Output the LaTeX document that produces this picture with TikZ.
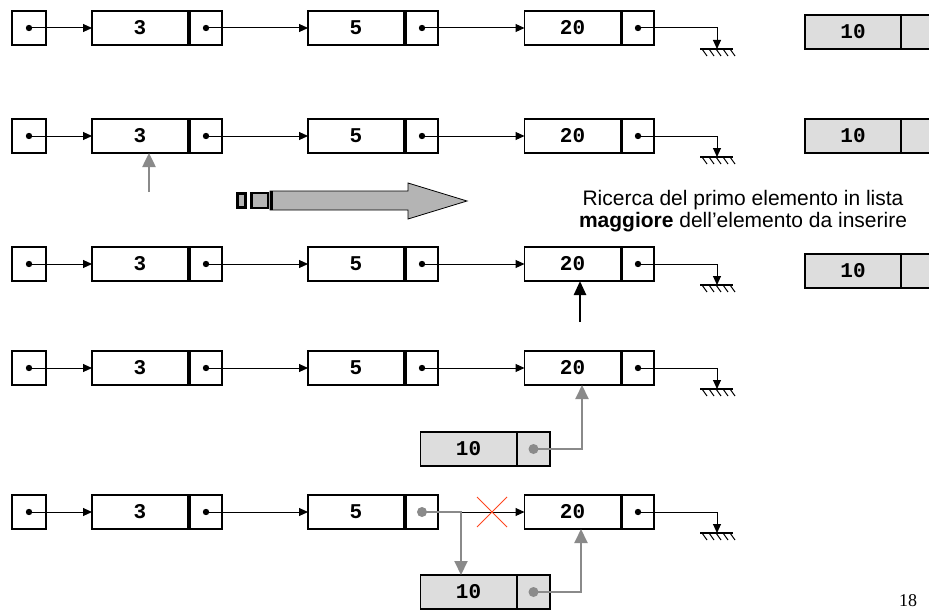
\documentclass[tikz,border=0pt]{standalone}
\usepackage{fontspec}
\usepackage{tikz}
\usetikzlibrary{arrows.meta}

\newfontfamily\labelfont{Liberation Sans}
\newfontfamily\cellfont{Liberation Mono}
\newfontfamily\pagenumfont{Liberation Serif}

\definecolor{cellgray}{RGB}{221,221,221}
\definecolor{ptrgray}{RGB}{138,138,138}
\definecolor{arrowfill}{RGB}{180,180,180}
\definecolor{crossred}{RGB}{255,69,30}

\tikzset{
    cell/.style={draw, rectangle, line width=1.1pt, inner sep=0pt, outer sep=0pt,
        minimum height=34pt, font=\cellfont\bfseries\fontsize{21}{21}\selectfont},
    headcell/.style={cell, minimum width=34pt},
    datacell/.style={cell, minimum width=96pt},
    ptrcell/.style={cell, minimum width=32pt},
    newcell/.style={fill=cellgray},
    link/.style={line width=1pt, -{Triangle[length=9pt,width=8pt]}},
    graylink/.style={draw=ptrgray, line width=2pt, -{Triangle[length=14pt,width=13pt]}},
    bigup/.style={line width=2.5pt, -{Triangle[length=14pt,width=12pt]}},
}

\begin{document}
\begin{tikzpicture}[x=1pt,y=-1pt]
    \useasboundingbox (0,0) rectangle (929,610);

    % the same list 3 -> 5 -> 20 on every row
    \foreach \r/\y in {a/28,b/136,c/264,d/368,e/512}{
        \node[headcell] (h\r) at (29,\y) {};
        \node[datacell] (n3\r) at (140,\y) {3};
        \node[ptrcell] (p3\r) at (206,\y) {};
        \node[datacell] (n5\r) at (356,\y) {5};
        \node[ptrcell] (p5\r) at (422,\y) {};
        \node[datacell] (n20\r) at (572.5,\y) {20};
        \node[ptrcell] (p20\r) at (638,\y) {};
        \coordinate (g\r) at (717,\y+21);
        \foreach \p in {h\r,p3\r,p5\r,p20\r}
            \fill (\p) circle (3.2pt);
        \draw[link] (h\r.center) -- (n3\r);
        \draw[link] (p3\r.center) -- (n5\r);
        \draw[link] (p5\r.center) -- (n20\r);
        % NULL
        \draw[link] (p20\r.center) -| (g\r);
        \draw[line width=1.2pt] (g\r) ++(-17,0) -- ++(33,0);
        \foreach \k in {0,...,4}
            \draw[line width=1pt] (g\r) ++(-15+7*\k,0) -- ++(5,7);
    }

    % element to insert, waiting on the right
    \begin{scope}
        \clip (0,0) rectangle (929,610);
        \foreach \r/\y in {a/32,b/136,c/271}{
            \node[datacell,newcell] (m\r) at (853,\y) {10};
            \node[ptrcell,newcell,minimum width=33pt] (q\r) at (917.5,\y) {};
        }
    \end{scope}

    % scanning pointer
    \coordinate (seek) at (149,192);
    \draw[graylink,line width=2.5pt] (seek) -- (seek |- n3b.south);

    % block arrow
    \filldraw[fill=arrowfill, line width=3pt] (237.5,193.5) rectangle (245.5,207.5);
    \filldraw[fill=arrowfill, line width=2.5pt] (251.25,193) rectangle (267.75,208);
    \filldraw[fill=arrowfill, line width=0.8pt] (270,191) -- (408,191) -- (408,183)
        -- (467,201) -- (408,219) -- (408,210) -- (270,210) -- cycle;
    \draw[line width=3pt] (271.5,191) -- (271.5,210);

    \node[align=center, anchor=base, inner sep=0pt,
        font=\labelfont\fontsize{21}{22}\selectfont] (caption) at (743,227)
        {Ricerca del primo elemento in lista\\\textbf{maggiore} dell’elemento da inserire};

    \coordinate (found) at (580,322);
    \draw[bigup] (found) -- (found |- n20c.south);

    % new node points to 20
    \node[datacell,newcell] (n10d) at (468.5,449) {10};
    \node[ptrcell,newcell,minimum width=33pt] (p10d) at (533.5,449) {};
    \draw[graylink] (p10d.center) -| ([xshift=9.5pt]n20d.south);
    \fill[ptrgray] (p10d) circle (5pt);

    % 5 now points to the new node
    \node[datacell,newcell] (n10e) at (468.5,592) {10};
    \node[ptrcell,newcell,minimum width=33pt] (p10e) at (533.5,592) {};
    \draw[graylink] (p5e.center) -| ([xshift=-7.5pt]n10e.north);
    \draw[graylink] (p10e.center) -| ([xshift=8.5pt]n20e.south);
    \fill[ptrgray] (p5e) circle (5pt);
    \fill[ptrgray] (p10e) circle (5pt);
    \coordinate (cut) at (492,512);
    \draw[crossred, line width=0.8pt] (cut) ++(-15,-15) -- ++(30,30)
        (cut) ++(-15,15) -- ++(30,-30);

    \node[font=\pagenumfont\fontsize{18}{18}\selectfont] (page) at (908,601) {18};
\end{tikzpicture}
\end{document}
